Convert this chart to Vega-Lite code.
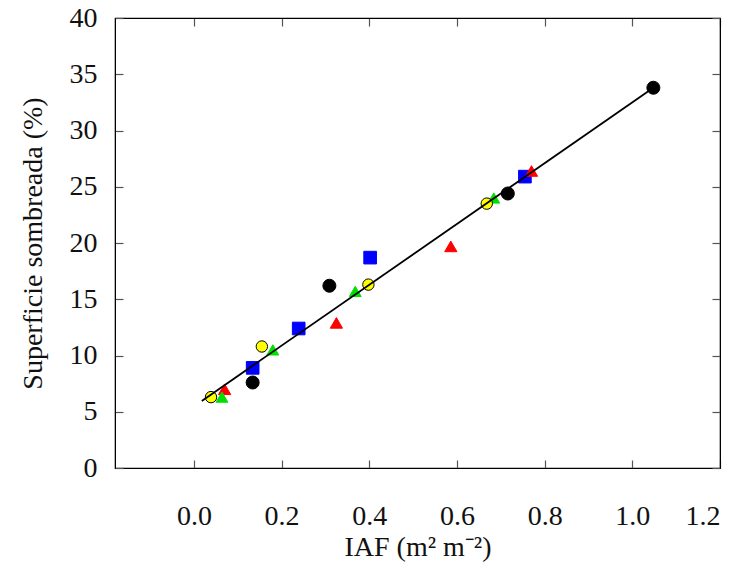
{
  "$schema": "https://vega.github.io/schema/vega-lite/v6.json",
  "autosize": "none",
  "width": 605,
  "height": 450,
  "padding": {"left": 115, "top": 18, "right": 20, "bottom": 103},
  "background": "white",
  "config": {
    "view": {"stroke": "black", "strokeWidth": 1.2},
    "font": "Liberation Serif",
    "axis": {
      "labelFont": "Liberation Serif", "titleFont": "Liberation Serif",
      "labelFontSize": 28, "titleFontSize": 28, "labelColor": "#111", "titleColor": "#111",
      "titleFontWeight": "normal", "grid": false, "domainColor": "black",
      "tickColor": "#555", "tickSize": -8, "tickWidth": 1.2
    }
  },
  "datasets": {
    "pts": [
      {"iaf": 0.134, "sup": 7.6, "serie": "A"},
      {"iaf": 0.309, "sup": 16.2, "serie": "A"},
      {"iaf": 0.716, "sup": 24.4, "serie": "A"},
      {"iaf": 1.048, "sup": 33.8, "serie": "A"},
      {"iaf": 0.134, "sup": 8.9, "serie": "B"},
      {"iaf": 0.239, "sup": 12.4, "serie": "B"},
      {"iaf": 0.402, "sup": 18.7, "serie": "B"},
      {"iaf": 0.755, "sup": 25.9, "serie": "B"},
      {"iaf": 0.070, "sup": 7.0, "serie": "C"},
      {"iaf": 0.325, "sup": 12.9, "serie": "C"},
      {"iaf": 0.586, "sup": 19.7, "serie": "C"},
      {"iaf": 0.770, "sup": 26.4, "serie": "C"},
      {"iaf": 0.064, "sup": 6.3, "serie": "D"},
      {"iaf": 0.180, "sup": 10.5, "serie": "D"},
      {"iaf": 0.368, "sup": 15.7, "serie": "D"},
      {"iaf": 0.684, "sup": 24.0, "serie": "D"},
      {"iaf": 0.039, "sup": 6.3, "serie": "E"},
      {"iaf": 0.155, "sup": 10.8, "serie": "E"},
      {"iaf": 0.398, "sup": 16.3, "serie": "E"},
      {"iaf": 0.668, "sup": 23.5, "serie": "E"}
    ],
    "fit": [
      {"iaf": 0.018, "sup": 5.96},
      {"iaf": 1.048, "sup": 33.8}
    ]
  },
  "layer": [
    {
      "data": {"name": "pts"},
      "mark": {"type": "point", "filled": true, "opacity": 1, "strokeWidth": 1},
      "encoding": {
        "x": {"field": "iaf", "type": "quantitative",
              "scale": {"domain": [-0.18, 1.2], "nice": false, "zero": false},
              "axis": {"values": [0, 0.2, 0.4, 0.6, 0.8, 1.0, 1.2], "format": ".1f", "title": "IAF (m² m⁻²)", "labelPadding": 42, "titlePadding": 3, "orient": "bottom"}},
        "y": {"field": "sup", "type": "quantitative",
              "scale": {"domain": [0, 40], "nice": false},
              "axis": {"values": [0, 5, 10, 15, 20, 25, 30, 35, 40], "title": "Superficie sombreada (%)", "labelPadding": 26, "titlePadding": 22, "orient": "left"}},
        "shape": {"field": "serie", "type": "nominal", "legend": null,
                  "scale": {"domain": ["A", "B", "C", "D", "E"], "range": ["circle", "square", "triangle-up", "triangle-up", "circle"]}},
        "fill": {"field": "serie", "type": "nominal", "legend": null,
                 "scale": {"domain": ["A", "B", "C", "D", "E"], "range": ["#000000", "#0000ff", "#ff0000", "#00e000", "#ffff00"]}},
        "stroke": {"field": "serie", "type": "nominal", "legend": null,
                   "scale": {"domain": ["A", "B", "C", "D", "E"], "range": ["#000000", "#0000ff", "#ff0000", "#00e000", "#000000"]}},
        "size": {"field": "serie", "type": "nominal", "legend": null,
                 "scale": {"domain": ["A", "B", "C", "D", "E"], "range": [170, 130, 150, 150, 170]}}
      }
    },
    {
      "data": {"name": "fit"},
      "mark": {"type": "line", "color": "black", "strokeWidth": 1.8},
      "encoding": {
        "x": {"field": "iaf", "type": "quantitative",
              "axis": {"orient": "top", "values": [0, 0.2, 0.4, 0.6, 0.8, 1.0, 1.2], "labels": false, "title": null}},
        "y": {"field": "sup", "type": "quantitative",
              "axis": {"orient": "right", "values": [0, 5, 10, 15, 20, 25, 30, 35, 40], "labels": false, "title": null}}
      }
    }
  ],
  "resolve": {"axis": {"x": "independent", "y": "independent"}}
}
